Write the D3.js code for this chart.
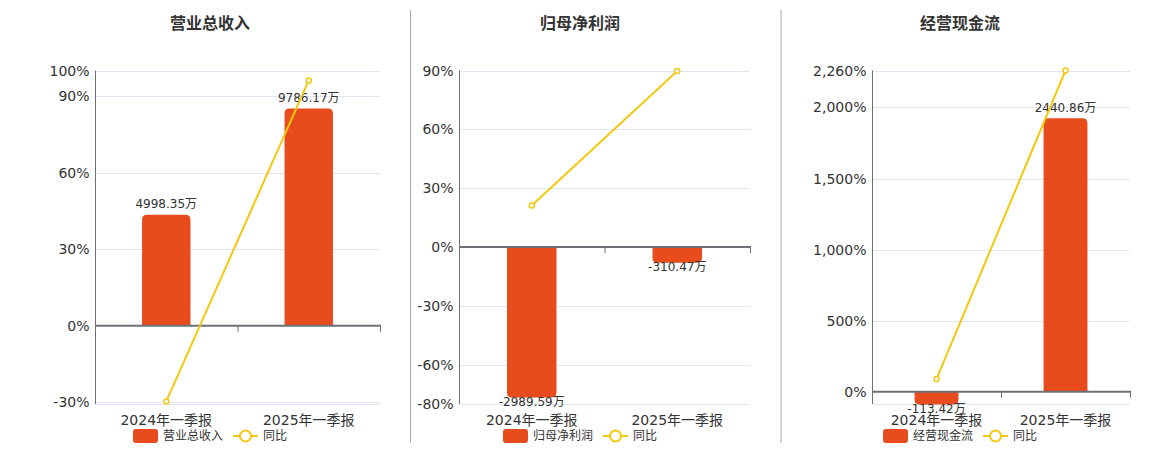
<!DOCTYPE html>
<html><head><meta charset="utf-8">
<script src="https://cdn.jsdelivr.net/npm/d3@7/dist/d3.min.js"></script>
<style>
html,body{margin:0;padding:0;background:#fff;}
text{font-family:"DejaVu Sans","Noto Sans CJK SC",sans-serif;}
</style></head>
<body><svg id="c" width="1160" height="450"></svg>
<script>
const categories = ["2024年一季报", "2025年一季报"];
const titles = ["营业总收入", "归母净利润", "经营现金流"];
const barNames = ["营业总收入", "归母净利润", "经营现金流"];
const revenueValues = [4998.35, 9786.17];
const profitValues = [-2989.59, -310.47];
const cashValues = [-113.42, 2440.86];
const revenueYoy = [-29.6, 96.1];
const profitYoy = [21.2, 89.8];
const cashYoy = [89, 2260];
const revenueTicks = [-30, 0, 30, 60, 90, 100];
const profitTicks = [-80, -60, -30, 0, 30, 60, 90];
const cashTicks = [0, 500, 1000, 1500, 2000, 2260];
const lineDomains = [[-30.6, 100], [-80, 90], [-86.6, 2260]];
const barMaxes = [11492, 3506, 2866];

const barColor = "#E84B1C", lineColor = "#F2C811", axisColor = "#6E7079", gridColor = "#E0E6F1";
const panels = [
  {left: 95, right: 380, cx: 210, bars: revenueValues, yoy: revenueYoy, ticks: revenueTicks},
  {left: 459, right: 750, cx: 580, bars: profitValues, yoy: profitYoy, ticks: profitTicks},
  {left: 872, right: 1130, cx: 960, bars: cashValues, yoy: cashYoy, ticks: cashTicks}
];
const plotTop = 70.5, plotBottom = 404;
const svg = d3.select("#c");

[410.5, 781].forEach(x => svg.append("line").attr("x1", x).attr("x2", x).attr("y1", 10).attr("y2", 443)
  .attr("stroke", "#aaa").attr("stroke-width", 1));

const fmtComma = d3.format(",");
const fmtPct = d => fmtComma(d).replace("\u2212", "-") + "%";

function barPath(x, w, y0, y1, r) {
  const h = Math.abs(y1 - y0);
  r = Math.min(r, h, w / 2);
  if (y1 < y0) {
    return `M${x},${y0}V${y1 + r}Q${x},${y1} ${x + r},${y1}H${x + w - r}Q${x + w},${y1} ${x + w},${y1 + r}V${y0}Z`;
  } else {
    return `M${x},${y0}V${y1 - r}Q${x},${y1} ${x + r},${y1}H${x + w - r}Q${x + w},${y1} ${x + w},${y1 - r}V${y0}Z`;
  }
}

panels.forEach((p, i) => {
  const g = svg.append("g");
  const [lmin, lmax] = lineDomains[i];
  const yL = d3.scaleLinear().domain([lmin, lmax]).range([plotBottom, plotTop]);
  const bmax = barMaxes[i];
  const yB = d3.scaleLinear().domain([bmax * lmin / lmax, bmax]).range([plotBottom, plotTop]);
  const x = d3.scaleBand().domain(categories).range([p.left, p.right]);
  const bw = x.bandwidth() * 0.34;
  const y0 = yL(0);

  g.append("text").attr("x", p.cx).attr("y", 23.5).attr("text-anchor", "middle").attr("dominant-baseline", "central")
    .attr("font-size", 16).attr("font-weight", "bold").attr("fill", "#333").text(titles[i]);

  const gridVals = Array.from(new Set(p.ticks.concat([lmin, lmax])));
  g.selectAll(".grid").data(gridVals.filter(v => v !== 0)).join("line")
    .attr("x1", p.left).attr("x2", p.right).attr("y1", d => Math.round(yL(d)) + 0.5).attr("y2", d => Math.round(yL(d)) + 0.5)
    .attr("stroke", gridColor).attr("stroke-width", 1);

  g.selectAll(".tl").data(p.ticks).join("text")
    .attr("x", p.left - 5.5).attr("y", d => yL(d)).attr("text-anchor", "end").attr("dominant-baseline", "central")
    .attr("font-size", 14).attr("fill", "#333").text(d => fmtPct(d));

  g.selectAll(".bar").data(p.bars).join("path")
    .attr("d", (d, j) => barPath(x(categories[j]) + (x.bandwidth() - bw) / 2, bw, yB(0), yB(d), 5))
    .attr("fill", barColor);

  g.append("line").attr("x1", p.left + 0.5).attr("x2", p.left + 0.5).attr("y1", plotTop).attr("y2", plotBottom)
    .attr("stroke", axisColor).attr("stroke-width", 1);
  g.append("line").attr("x1", p.left).attr("x2", p.right + 1).attr("y1", y0).attr("y2", y0)
    .attr("stroke", axisColor).attr("stroke-width", 2);
  const tickXs = [p.left + 0.5].concat(categories.map(c => x(c) + x.bandwidth() + 0.5));
  g.selectAll(".tk").data(tickXs).join("line")
    .attr("x1", d => d).attr("x2", d => d).attr("y1", y0).attr("y2", y0 + 6)
    .attr("stroke", axisColor).attr("stroke-width", 1);

  g.selectAll(".xl").data(categories).join("text")
    .attr("x", d => x(d) + x.bandwidth() / 2).attr("y", 420).attr("text-anchor", "middle").attr("dominant-baseline", "central")
    .attr("font-size", 14).attr("fill", "#333").text(d => d);

  g.selectAll(".vl").data(p.bars).join("text")
    .attr("x", (d, j) => x(categories[j]) + x.bandwidth() / 2)
    .attr("y", d => d >= 0 ? yB(d) - 10.5 : yB(d) + 4.5)
    .attr("text-anchor", "middle").attr("dominant-baseline", "central")
    .attr("font-size", 12).attr("fill", "#333").text(d => d.toFixed(2) + "万");

  const line = d3.line().x((d, j) => x(categories[j]) + x.bandwidth() / 2).y(d => yL(d));
  g.append("path").datum(p.yoy).attr("d", line).attr("fill", "none").attr("stroke", lineColor).attr("stroke-width", 2);
  g.selectAll(".pt").data(p.yoy).join("circle")
    .attr("cx", (d, j) => x(categories[j]) + x.bandwidth() / 2).attr("cy", d => yL(d)).attr("r", 2.5)
    .attr("fill", "#fff").attr("stroke", lineColor).attr("stroke-width", 1.5);

  const lg = g.append("g");
  const ly = 436;
  lg.append("rect").attr("x", 0).attr("y", ly - 7).attr("width", 25).attr("height", 14).attr("rx", 3).attr("fill", barColor);
  const t1 = lg.append("text").attr("x", 30).attr("y", ly).attr("dominant-baseline", "central")
    .attr("font-size", 12).attr("fill", "#333").text(barNames[i]);
  const w1 = t1.node().getComputedTextLength();
  const ix = 30 + w1 + 10;
  lg.append("line").attr("x1", ix).attr("x2", ix + 25).attr("y1", ly).attr("y2", ly).attr("stroke", lineColor).attr("stroke-width", 2);
  lg.append("circle").attr("cx", ix + 12.5).attr("cy", ly).attr("r", 5.5).attr("fill", "#fff").attr("stroke", lineColor).attr("stroke-width", 2);
  const t2 = lg.append("text").attr("x", ix + 30).attr("y", ly).attr("dominant-baseline", "central")
    .attr("font-size", 12).attr("fill", "#333").text("同比");
  const total = ix + 30 + t2.node().getComputedTextLength();
  lg.attr("transform", `translate(${p.cx - total / 2},0)`);
});
</script></body></html>
